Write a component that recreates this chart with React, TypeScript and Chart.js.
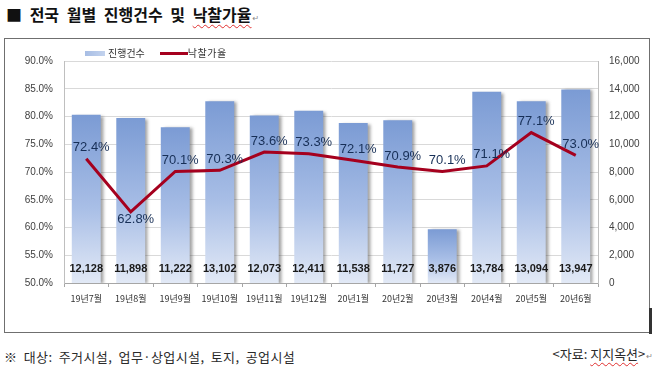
import React, { useEffect, useRef } from "react";
import { Chart, registerables } from "chart.js";

Chart.register(...registerables);

// ---- data ----
const categories = [
  "19년7월", "19년8월", "19년9월", "19년10월", "19년11월", "19년12월",
  "20년1월", "20년2월", "20년3월", "20년4월", "20년5월", "20년6월",
];
const caseCounts = [12128, 11898, 11222, 13102, 12073, 12411, 11538, 11727, 3876, 13784, 13094, 13947];
const bidRates = [72.4, 62.8, 70.1, 70.3, 73.6, 73.3, 72.1, 70.9, 70.1, 71.1, 77.1, 73.0];
const rateLabelBelow = [false, true, false, false, false, false, false, false, false, false, false, false];
const rateAxisTicks = [50, 55, 60, 65, 70, 75, 80, 85, 90];
const countAxisTicks = [0, 2000, 4000, 6000, 8000, 10000, 12000, 14000, 16000];

const seriesNames = ["진행건수", "낙찰가율"];

const NUM_FONT = "'Liberation Sans', Arial, sans-serif";
const KR_FONT = "'Noto Sans CJK KR', 'Noto Sans', sans-serif";

const barShadow = {
  id: "barShadow",
  beforeDatasetDraw(chart: any, args: any) {
    if (args.index !== 0) return;
    const c = chart.ctx;
    c.save();
    c.shadowColor = "rgba(70,70,70,0.5)";
    c.shadowBlur = 3;
    c.shadowOffsetX = 3;
    c.shadowOffsetY = 1;
  },
  afterDatasetDraw(chart: any, args: any) {
    if (args.index !== 0) return;
    chart.ctx.restore();
  },
};

const valueLabels = {
  id: "valueLabels",
  afterDatasetsDraw(chart: any) {
    const c = chart.ctx;
    c.save();
    const barMeta = chart.getDatasetMeta(0);
    c.font = `bold 11px ${NUM_FONT}`;
    c.fillStyle = "#1a1a1a";
    c.textAlign = "center";
    c.textBaseline = "middle";
    barMeta.data.forEach((el: any, i: number) => {
      c.fillText(caseCounts[i].toLocaleString("en-US"), el.x, el.base - 14);
    });
    const lineMeta = chart.getDatasetMeta(1);
    c.font = `13px ${NUM_FONT}`;
    c.fillStyle = "#172f57";
    lineMeta.data.forEach((el: any, i: number) => {
      const dy = rateLabelBelow[i] ? 7 : -11;
      c.fillText(bidRates[i].toFixed(1) + "%", el.x + 5, el.y + dy);
    });
    c.restore();
  },
};

function barGradient(ctx: any) {
  const chart = ctx.chart;
  if (ctx.type !== "data" || !chart.chartArea) return "#8eaadb";
  const s = chart.scales.y1;
  const top = s.getPixelForValue(ctx.raw);
  const bottom = s.getPixelForValue(0);
  const g = chart.ctx.createLinearGradient(0, top, 0, bottom);
  g.addColorStop(0, "#7b9bd4");
  g.addColorStop(0.55, "#a8bee6");
  g.addColorStop(1, "#e2e9f6");
  return g;
}

export default function App() {
  const ref = useRef<HTMLCanvasElement>(null);

  useEffect(() => {
    document.body.style.margin = "0";
    const chart = new Chart(ref.current!, {
      type: "bar",
      data: {
        labels: categories,
        datasets: [
          {
            type: "bar",
            label: seriesNames[0],
            data: caseCounts,
            yAxisID: "y1",
            backgroundColor: barGradient as any,
            borderWidth: 0,
            categoryPercentage: 1,
            barPercentage: 0.65,
            order: 1,
          },
          {
            type: "line",
            label: seriesNames[1],
            data: bidRates,
            yAxisID: "y",
            borderColor: "#A5001E",
            borderWidth: 3,
            pointRadius: 0,
            tension: 0,
            fill: false,
            order: 0,
          } as any,
        ],
      },
      options: {
        animation: false,
        responsive: false,
        devicePixelRatio: 1,
        layout: { padding: { top: 22, left: 0, right: 0, bottom: 0 } },
        plugins: {
          legend: { display: false },
          tooltip: { enabled: false },
        },
        scales: {
          x: {
            offset: true,
            grid: {
              offset: true,
              drawOnChartArea: false,
              drawTicks: true,
              tickLength: 4,
              color: "#a6a6a6",
            },
            border: { display: true, color: "#a6a6a6" },
            ticks: {
              font: { family: KR_FONT, size: 9 },
              color: "#333",
              padding: 6,
              maxRotation: 0,
              autoSkip: false,
            },
            afterFit: (s: any) => {
              s.height = 49;
            },
          },
          y: {
            position: "left",
            min: rateAxisTicks[0],
            max: rateAxisTicks[rateAxisTicks.length - 1],
            ticks: {
              stepSize: rateAxisTicks[1] - rateAxisTicks[0],
              font: { family: NUM_FONT, size: 10 },
              color: "#404040",
              padding: 11,
              callback: (v: any) => Number(v).toFixed(1) + "%",
            },
            grid: { color: "#d9d9d9", drawTicks: false },
            border: { display: true, color: "#bfbfbf" },
            afterFit: (s: any) => {
              s.width = 59;
            },
          },
          y1: {
            position: "right",
            min: countAxisTicks[0],
            max: countAxisTicks[countAxisTicks.length - 1],
            ticks: {
              stepSize: countAxisTicks[1] - countAxisTicks[0],
              font: { family: NUM_FONT, size: 10 },
              color: "#404040",
              padding: 11,
              callback: (v: any) => Number(v).toLocaleString("en-US"),
            },
            grid: { display: false, drawTicks: false },
            border: { display: true, color: "#bfbfbf" },
            afterFit: (s: any) => {
              s.width = 51;
            },
          },
        },
      } as any,
      plugins: [barShadow, valueLabels],
    });
    return () => chart.destroy();
  }, []);

  const wavy: React.CSSProperties = {
    textDecorationLine: "underline",
    textDecorationStyle: "wavy",
    textDecorationColor: "#e03030",
    textDecorationThickness: "1px",
    textUnderlineOffset: "3px",
  };
  const returnMark: React.CSSProperties = {
    fontFamily: "'DejaVu Sans', sans-serif",
    fontSize: 8,
    color: "#888",
    fontWeight: "normal",
    marginLeft: 1,
    letterSpacing: 0,
  };

  return (
    <div style={{ position: "relative", width: 658, height: 387, background: "#fff", overflow: "hidden" }}>
      <div
        style={{
          position: "absolute",
          left: 6,
          top: 4,
          fontFamily: KR_FONT,
          fontWeight: "bold",
          fontSize: 16,
          lineHeight: "20px",
          color: "#111",
          wordSpacing: 4,
          whiteSpace: "nowrap",
        }}
      >
        ■ 전국 월별 진행건수 및 <span style={wavy}>낙찰가율</span>
        <span style={returnMark}>↵</span>
      </div>

      <div
        style={{
          position: "absolute",
          left: 4,
          top: 38,
          width: 644,
          height: 293,
          border: "1px solid #6f6f6f",
          background: "#fff",
        }}
      >
        <canvas ref={ref} width={644} height={293} style={{ display: "block", width: 644, height: 293 }} />
        <div
          style={{
            position: "absolute",
            left: 80,
            top: 7,
            display: "flex",
            alignItems: "center",
            fontFamily: KR_FONT,
            fontSize: 10,
            color: "#333",
            whiteSpace: "nowrap",
            lineHeight: "14px",
          }}
        >
          <span
            style={{
              display: "inline-block",
              width: 20,
              height: 5,
              background: "linear-gradient(90deg, #a7bde4, #c3d3ee)",
              marginRight: 3,
            }}
          />
          <span>{seriesNames[0]}</span>
          <span
            style={{
              display: "inline-block",
              width: 28,
              height: 3,
              background: "#A5001E",
              marginLeft: 15,
            }}
          />
          <span style={{ letterSpacing: 0.5 }}>{seriesNames[1]}</span>
        </div>
      </div>
      <div style={{ position: "absolute", left: 649, top: 308, width: 3, height: 26, background: "#333" }} />

      <div
        style={{
          position: "absolute",
          left: 4,
          top: 348,
          fontFamily: KR_FONT,
          fontSize: 13,
          lineHeight: "18px",
          color: "#2a2a2a",
          letterSpacing: 0.4,
          wordSpacing: 3,
          whiteSpace: "nowrap",
        }}
      >
        ※ 대상: 주거시설, 업무·상업시설, 토지, 공업시설
      </div>
      <div
        style={{
          position: "absolute",
          right: 5,
          top: 345,
          fontFamily: KR_FONT,
          fontSize: 13,
          lineHeight: "18px",
          color: "#2a2a2a",
          whiteSpace: "nowrap",
        }}
      >
        &lt;자료: <span style={wavy}>지지옥션</span>&gt;
        <span style={returnMark}>↵</span>
      </div>
    </div>
  );
}
